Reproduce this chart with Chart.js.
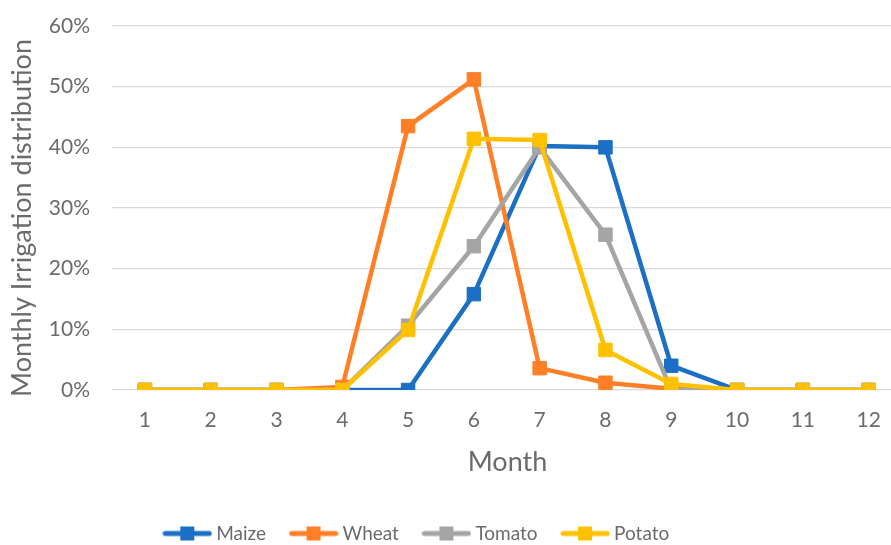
<!DOCTYPE html>
<html>
<head>
<meta charset="utf-8">
<script src="https://cdn.jsdelivr.net/npm/chart.js@4/dist/chart.umd.min.js"></script>
<style>
  html, body { margin: 0; padding: 0; background: #ffffff; }
  #wrap { width: 891px; height: 545px; }
</style>
</head>
<body>
<div id="wrap"><canvas id="c" width="891" height="545"></canvas></div>
<script>
const months = [1, 2, 3, 4, 5, 6, 7, 8, 9, 10, 11, 12];
const maize  = [0, 0, 0, 0, 0, 15.8, 40.2, 40.0, 4.0, 0, 0, 0];
const wheat  = [0, 0, 0, 0.5, 43.5, 51.2, 3.6, 1.2, 0.2, 0, 0, 0];
const tomato = [0, 0, 0, 0, 10.6, 23.7, 40.0, 25.6, 0, 0, 0, 0];
const potato = [0, 0, 0, 0, 9.9, 41.4, 41.2, 6.6, 1.0, 0, 0, 0];
const yTicks = [0, 10, 20, 30, 40, 50, 60];

const seriesNames = ['Maize', 'Wheat', 'Tomato', 'Potato'];
const seriesColors = ['#1B6FC4', '#FF7F27', '#A5A5A5', '#FFC000'];
const seriesData = [maize, wheat, tomato, potato];

const FONT = 'Lato, "Open Sans", sans-serif';
const TXT = '#6b6b6b';

function legendMarker(color) {
  const c = document.createElement('canvas');
  c.width = 50; c.height = 16;
  const g = c.getContext('2d');
  g.strokeStyle = color; g.lineWidth = 5; g.lineCap = 'round';
  g.beginPath(); g.moveTo(3, 8); g.lineTo(47, 8); g.stroke();
  g.fillStyle = color; g.fillRect(18, 1, 14, 14);
  return c;
}

const datasets = seriesNames.map((name, i) => ({
  label: name,
  data: months.map((m, j) => ({ x: m, y: seriesData[i][j] })),
  borderColor: seriesColors[i],
  backgroundColor: seriesColors[i],
  pointBackgroundColor: seriesColors[i],
  pointBorderColor: seriesColors[i],
  pointStyle: 'rect',
  pointRadius: 9.5,
  pointBorderWidth: 1,
  pointHoverRadius: 9.5,
  borderWidth: 4.5,
  borderJoinStyle: 'round',
  borderCapStyle: 'round',
  tension: 0,
  fill: false,
  order: seriesNames.length - 1 - i,
  legendImg: legendMarker(seriesColors[i])
}));

const layoutPatch = {
  id: 'layoutPatch',
  beforeInit(chart) {
    const lg = chart.legend;
    if (lg) {
      const fit = lg.fit;
      lg.fit = function () { fit.call(this); this.height = 49; };
    }
  },
  afterLayout(chart) {
    const lg = chart.legend;
    if (lg) { lg.left -= 27; lg.right -= 27; }
    // nudge axis title centring to match the reference
    if (chart.scales.y) chart.scales.y.top += 20;
    if (chart.scales.x) chart.scales.x.left += 12;
  }
};

function zeroPad(scale) {
  scale.paddingLeft = 0; scale.paddingRight = 0;
  scale.paddingTop = 0; scale.paddingBottom = 0;
}

new Chart(document.getElementById('c'), {
  type: 'line',
  data: { datasets },
  plugins: [layoutPatch],
  options: {
    responsive: false,
    animation: false,
    layout: { autoPadding: false, padding: { top: 26, left: 0, right: 0, bottom: 0 } },
    plugins: {
      tooltip: { enabled: false },
      legend: {
        position: 'bottom',
        labels: {
          usePointStyle: true,
          pointStyleWidth: 39,
          padding: 28,
          color: TXT,
          font: { family: FONT, size: 19 },
          generateLabels(chart) {
            return chart.data.datasets.map((ds, i) => ({
              text: ds.label,
              fillStyle: ds.borderColor,
              strokeStyle: ds.borderColor,
              lineWidth: 0,
              pointStyle: ds.legendImg,
              fontColor: TXT,
              hidden: false,
              datasetIndex: i
            }));
          },
          sort: (a, b) => a.datasetIndex - b.datasetIndex
        }
      }
    },
    scales: {
      x: {
        type: 'linear',
        min: 0.5,
        max: 12.34,
        afterBuildTicks(scale) { scale.ticks = months.map(v => ({ value: v })); },
        afterFit(scale) { scale.height = 106; zeroPad(scale); },
        grid: { display: false, drawTicks: false },
        border: { display: false },
        ticks: {
          color: TXT,
          padding: 18,
          font: { family: FONT, size: 21 },
          callback: v => String(v)
        },
        title: {
          display: true,
          text: 'Month',
          color: TXT,
          font: { family: FONT, size: 27 },
          padding: { top: 0, bottom: 18 }
        }
      },
      y: {
        min: 0,
        max: 60,
        afterBuildTicks(scale) { scale.ticks = yTicks.map(v => ({ value: v })); },
        afterFit(scale) { scale.width = 112; zeroPad(scale); },
        grid: { color: '#d9d9d9', lineWidth: 1.3, drawTicks: false },
        border: { display: false },
        ticks: {
          color: TXT,
          padding: 22,
          font: { family: FONT, size: 21 },
          callback: v => v + '%'
        },
        title: {
          display: true,
          text: 'Monthly Irrigation distribution',
          color: TXT,
          font: { family: FONT, size: 27 },
          padding: { top: 6, bottom: 0 }
        }
      }
    }
  }
});
</script>
</body>
</html>
